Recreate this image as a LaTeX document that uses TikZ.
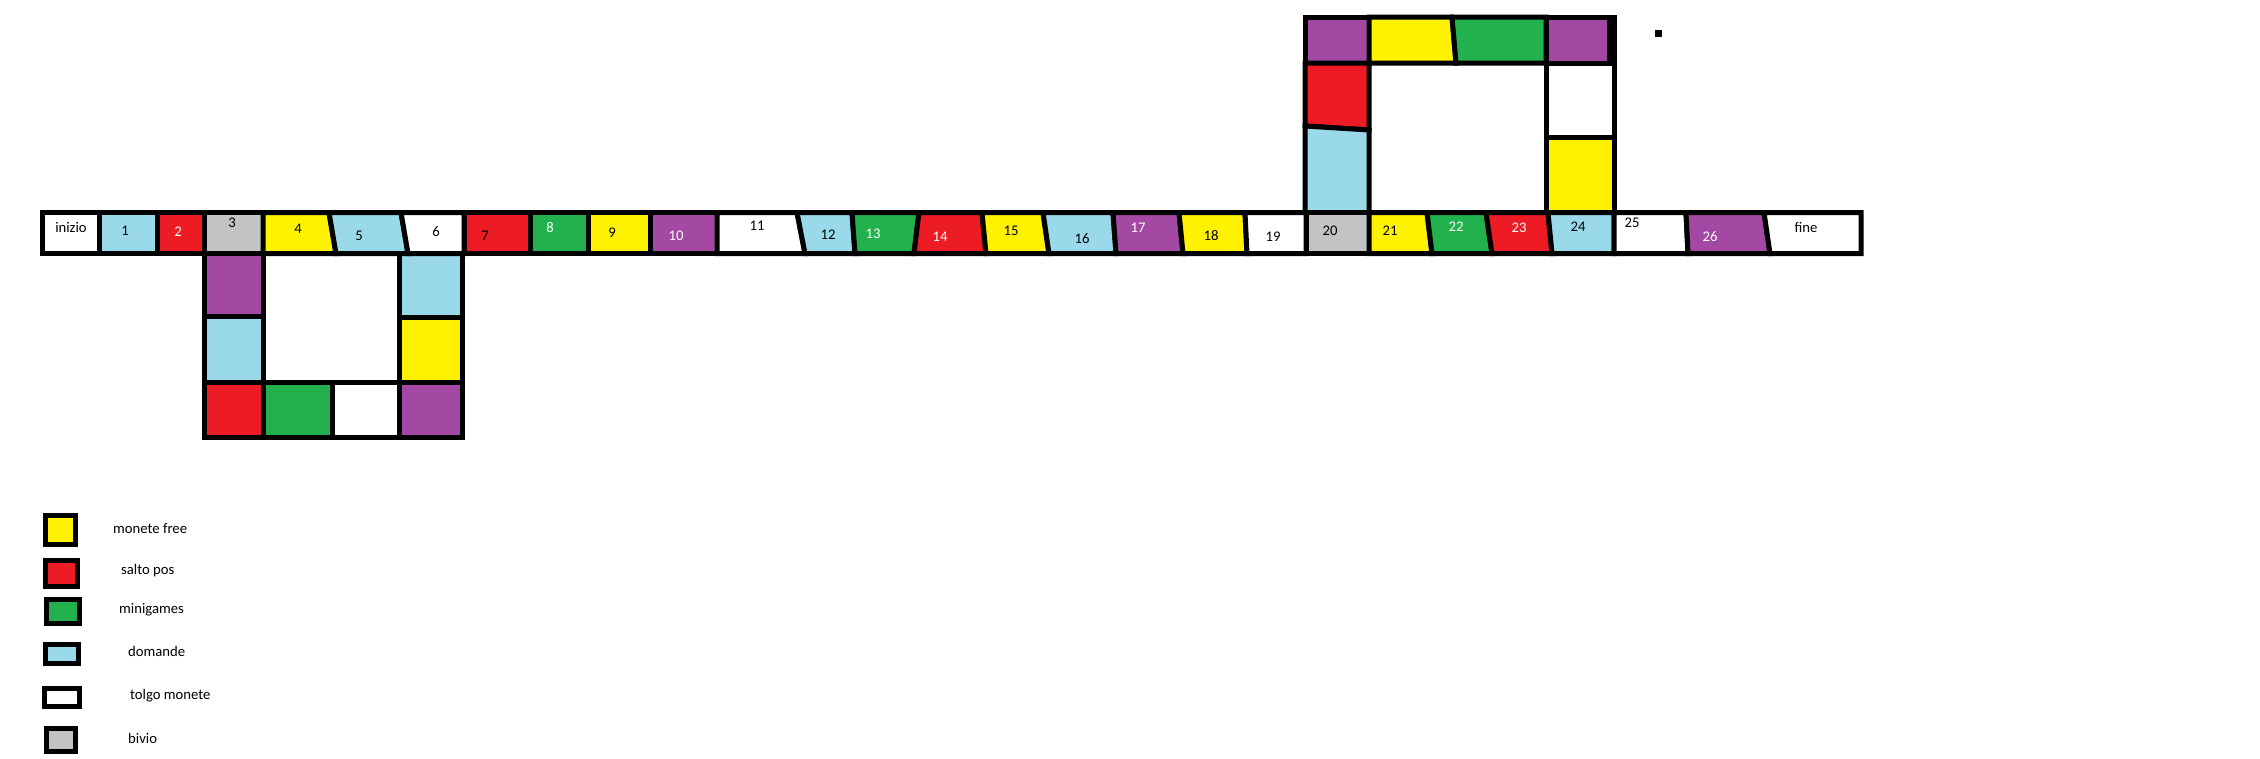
\documentclass[tikz,border=0pt]{standalone}
\usepackage{fontspec}
\setmainfont{Carlito}
\usepackage{tikz}
\usetikzlibrary{calc, positioning}

\definecolor{sqyellow}{HTML}{FFF200}
\definecolor{sqred}{HTML}{ED1C24}
\definecolor{sqgreen}{HTML}{22B14C}
\definecolor{sqblue}{HTML}{99D9EA}
\definecolor{sqgray}{HTML}{C3C3C3}
\definecolor{sqpurple}{HTML}{A349A4}

\begin{document}
\begin{tikzpicture}[
  x=1pt, y=-1pt,
  cell/.style={draw, line width=5pt},
  num/.style={font=\fontsize{14.7}{17}\selectfont, inner sep=0pt},
  keytext/.style={num, anchor=base west}
]
\fill[white] (0,0) rectangle (2260,758);
\useasboundingbox (0,0) rectangle (2260,758);

% lower loop
\filldraw[cell, fill=sqpurple] (204,253.5) rectangle (263,316);
\filldraw[cell, fill=sqblue] (204,316) rectangle (263,382);
\filldraw[cell, fill=sqblue] (399,253.5) rectangle (462,317);
\filldraw[cell, fill=sqyellow] (399,317) rectangle (462,382);
\filldraw[cell, fill=sqred] (204,382) rectangle (263,437);
\filldraw[cell, fill=sqgreen] (263,382) rectangle (332,437);
\filldraw[cell, fill=white] (332,382) rectangle (399,437);
\filldraw[cell, fill=sqpurple] (399,382) rectangle (462,437);

% upper loop
\filldraw[cell, fill=white] (1546,17) rectangle (1614,137);
\filldraw[cell, fill=sqyellow] (1546,137) rectangle (1614,212.5);
\filldraw[cell, fill=sqpurple] (1305,17) rectangle (1369,63);
\filldraw[cell, fill=sqyellow] (1369,17) -- (1452,17) -- (1456,63) -- (1369,63) -- cycle;
\filldraw[cell, fill=sqgreen] (1452,17) -- (1546,17) -- (1546,63) -- (1456,63) -- cycle;
\filldraw[cell, fill=sqpurple] (1546,17) rectangle (1609,63);
\filldraw[cell, fill=sqred] (1305,63) -- (1369,63) -- (1369,130) -- (1305,126) -- cycle;
\filldraw[cell, fill=sqblue] (1305,126) -- (1369,130) -- (1369,212.5) -- (1305,212.5) -- cycle;

% main strip
\foreach \lt/\lb/\rt/\rb/\col in {
  42/42/99/99/white, 99/99/157/157/sqblue, 157/157/204/204/sqred,
  204/204/263/263/sqgray, 263/263/329/336/sqyellow, 329/336/401/408/sqblue,
  401/408/464/464/white, 464/464/530/530/sqred, 530/530/588/588/sqgreen,
  588/588/650/650/sqyellow, 650/650/717/717/sqpurple, 717/717/797/805/white,
  797/805/852/855/sqblue, 852/855/919/914/sqgreen, 919/914/982/986/sqred,
  982/986/1043/1049/sqyellow, 1043/1049/1113/1116/sqblue, 1113/1116/1179/1183/sqpurple,
  1179/1183/1245/1247/sqyellow, 1245/1247/1306/1306/white, 1306/1306/1369/1369/sqgray,
  1369/1369/1427/1432/sqyellow, 1427/1432/1486/1492/sqgreen, 1486/1492/1548/1552/sqred,
  1548/1552/1614/1614/sqblue, 1614/1614/1686/1688/white, 1686/1688/1764/1770/sqpurple,
  1764/1770/1861/1861/white}
  \filldraw[cell, fill=\col] (\lt,212.5) -- (\rt,212.5) -- (\rb,253.5) -- (\lb,253.5) -- cycle;

% numbers
\foreach \t/\x/\y/\c in {
  inizio/71/227/black, 1/125/231/black, 2/178/232/white, 3/232/223/black,
  4/298/229/black, 5/359/236/black, 6/436/232/black, 7/485/236/black,
  8/550/228/white, 9/612/233/black, 10/676/236/white, 11/757/226/black,
  12/828/235/black, 13/873/234/white, 14/940/237/white, 15/1011/231/black,
  16/1082/239/black, 17/1138/228/white, 18/1211/236/black, 19/1273/237/black,
  20/1330/231/black, 21/1390/231/black, 22/1456/227/white, 23/1519/228/white,
  24/1578/227/black, 25/1632/223/black, 26/1710/237/white, fine/1806/227/black}
  \node[num, text=\c] (n\t) at (\x,\y) {\t};

\fill (1655,30) rectangle (1662,37);

% legend
\foreach \xa/\ya/\xb/\yb/\col/\tx/\ty/\txt [count=\i] in {
  45.5/515.5/75.5/544.5/sqyellow/113/533/monete free,
  45.5/560.5/77.5/586.5/sqred/121/574/salto pos,
  46.5/599.5/79.5/623.5/sqgreen/119/613/minigames,
  45.5/644.5/78.5/663.5/sqblue/128/656/domande,
  44.5/688.5/79.5/706.5/white/130/699/tolgo monete,
  46.5/728.5/75.5/751.5/sqgray/128/743/bivio}
{
  \filldraw[cell, fill=\col] (\xa,\ya) rectangle (\xb,\yb);
  \node[keytext] (key\i) at (\tx,\ty) {\txt};
}
\end{tikzpicture}
\end{document}
